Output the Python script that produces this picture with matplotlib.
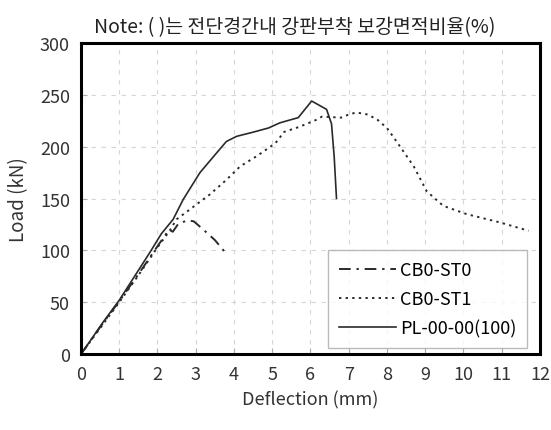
import matplotlib
matplotlib.use("Agg")
import matplotlib.pyplot as plt

plt.rcParams['font.family'] = ['Noto Sans CJK KR', 'DejaVu Sans']

title = "Note: ( )는 전단경간내 강판부착 보강면적비율(%)"
xlabel = "Deflection (mm)"
ylabel = "Load (kN)"

st0_name = "CB0-ST0"
st0_x = [0, 0.5, 1.0, 1.5, 2.0, 2.3, 2.4, 2.55, 2.8, 2.95, 3.2, 3.5, 3.75]
st0_y = [0, 26, 51, 77, 104, 120, 118, 126, 129, 128, 120, 110, 99]

st1_name = "CB0-ST1"
st1_x = [0, 0.5, 1.0, 1.5, 2.0, 2.3, 2.5, 2.9, 3.37, 3.8, 4.16, 4.6, 5.03, 5.15, 5.29,
         5.7, 6.16, 6.3, 6.8, 7.0, 7.2, 7.5, 7.75, 8.0, 8.25, 8.7, 9.04, 9.47, 10.08,
         10.95, 11.7]
st1_y = [0, 25, 50, 76, 103, 118, 130, 141, 154, 168, 181, 191, 202, 206, 214,
         219, 226, 229, 228, 231, 233, 231, 226, 218, 205, 181, 157, 143, 135,
         127, 119]

pl_name = "PL-00-00(100)"
pl_x = [0, 0.3, 0.6, 1.0, 1.4, 1.8, 2.1, 2.41, 2.67, 3.11, 3.5, 3.8, 4.07, 4.5,
        4.9, 5.2, 5.68, 6.03, 6.42, 6.55, 6.62, 6.68]
pl_y = [0, 16, 32, 52, 75, 98, 116, 130, 149, 175, 192, 205, 210, 214,
        218, 223, 228, 244, 236, 222, 190, 150]

fig = plt.figure(figsize=(5.51, 4.31), dpi=100)
ax = fig.add_axes([0.147, 0.176, 0.833, 0.722])

col = '#2a2a2a'
ax.plot(st0_x, st0_y, color=col, lw=1.4, dashes=(6, 3, 1.2, 3), label=st0_name)
ax.plot(st1_x, st1_y, color=col, lw=1.4, dashes=(1.2, 2.2), label=st1_name)
ax.plot(pl_x, pl_y, color=col, lw=1.2, label=pl_name)

ax.set_xlim(0, 12)
ax.set_ylim(0, 300)
ax.set_xticks(range(0, 13))
ax.set_yticks(range(0, 301, 50))
ax.grid(True, color='#d6d6d6', linestyle=(0, (4, 5)), linewidth=0.8)
ax.tick_params(direction='in', length=4, color='#aaaaaa', labelsize=13,
               labelcolor='#333333', pad=8)
for lab in ax.get_xticklabels() + ax.get_yticklabels():
    lab.set_fontweight('light')
for s in ax.spines.values():
    s.set_linewidth(2.2)
    s.set_color('black')

ax.set_xlabel(xlabel, fontsize=13, color='#333333', labelpad=5, fontweight='light')
ax.set_ylabel(ylabel, fontsize=13.5, color='#333333', labelpad=8, fontweight='light')
t = ax.set_title(title, fontsize=14, color='#222222', pad=8, fontweight='light')
t.set_x(0.466)

leg = ax.legend(loc='lower right', bbox_to_anchor=(0.972, 0.02),
                prop={'size': 13, 'weight': 'light'},
                frameon=True, fancybox=False, handlelength=3.2, borderpad=0.6,
                labelspacing=0.6, handletextpad=0.2, borderaxespad=0)
leg.get_frame().set_edgecolor('#aaaaaa')
leg.get_frame().set_linewidth(1.0)

fig.savefig("out.png", dpi=100)
